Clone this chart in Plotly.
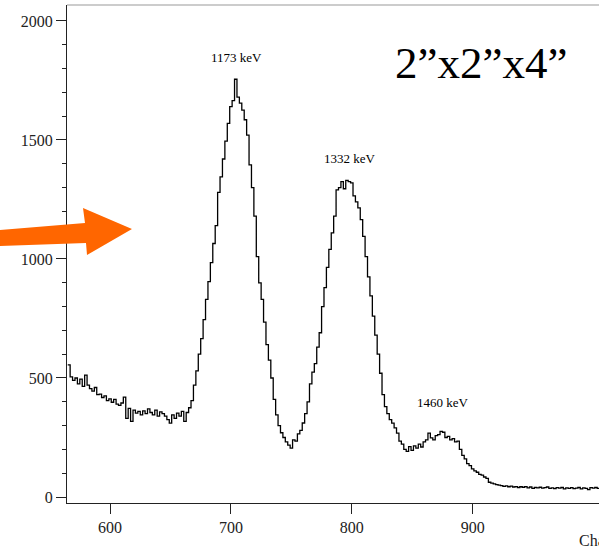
import plotly.graph_objects as go

# ---- data ----
bin_start = 565
bin_width = 2
counts = [
    555, 505, 490, 500, 475, 495, 465, 512, 470, 455,
    445, 460, 430, 432, 418, 425, 405, 412, 398, 410,
    390, 385, 395, 420, 330, 372, 318, 365, 352, 360,
    345, 362, 350, 370, 355, 345, 365, 340, 358, 350,
    340, 325, 310, 345, 330, 352, 340, 360, 318, 355,
    375, 405, 470, 530, 600, 665, 745, 830, 905, 985,
    1065, 1140, 1280, 1345, 1420, 1495, 1570, 1640, 1665, 1755,
    1680, 1655, 1625, 1585, 1520, 1395, 1300, 1180, 1010, 900,
    830, 735, 640, 575, 500, 410, 345, 300, 270, 250,
    232, 218, 205, 240, 235, 265, 280, 311, 350, 400,
    475, 525, 560, 630, 690, 800, 880, 965, 1040, 1110,
    1180, 1290, 1300, 1325, 1295, 1330, 1325, 1320, 1265, 1240,
    1215, 1165, 1095, 1010, 925, 845, 760, 680, 600, 520,
    430, 380, 350, 325, 310, 290, 268, 235, 222, 200,
    192, 212, 196, 215, 205, 222, 210, 232, 240, 268,
    248, 240, 258, 262, 276, 272, 250, 255, 240, 245,
    232, 235, 200, 175, 160, 140, 132, 118, 110, 104,
    95, 92, 84, 78, 62, 58, 55, 52, 50, 48,
    45, 47, 43, 46, 42, 44, 40, 43, 41, 44,
    38, 42, 36, 40, 38, 41, 37, 39, 42, 36,
    38, 35, 39, 37, 40, 34, 38, 36, 39, 35,
    37, 40, 34, 38, 36, 31, 39, 37, 40, 36,
]
peak_labels = ["1173 keV", "1332 keV", "1460 keV"]
peak_label_ch = [705, 798.5, 875.5]
peak_label_cnt = [1845, 1424, 399]
title_text = "2\u201dx2\u201dx4\u201d"
x_tick_vals = [600, 700, 800, 900]
y_tick_vals = [0, 500, 1000, 1500, 2000]
x_title = "Channel"

# ---- step histogram from bin edges ----
edges = [bin_start + i * bin_width for i in range(len(counts) + 1)]
yvals = counts + [counts[-1]]

fig = go.Figure()
fig.add_trace(go.Scatter(
    x=edges, y=yvals, mode="lines", line_shape="hv",
    line=dict(color="black", width=1.3), hoverinfo="skip", showlegend=False,
))

W, H = 599, 550
ml, mr, mt, mb = 67, 0, 5, 47
pw, ph = W - ml - mr, H - mt - mb

def px(x):
    return (x - ml) / pw

def py(y):
    return (H - mb - y) / ph

axis_font = dict(family="Liberation Serif, Times New Roman, serif", size=16, color="#222")

fig.update_layout(
    width=W, height=H,
    margin=dict(l=ml, r=mr, t=mt, b=mb),
    plot_bgcolor="white", paper_bgcolor="white",
    xaxis=dict(
        range=[564.4, 1004.5], tickvals=x_tick_vals, ticks="outside", ticklen=10,
        tickwidth=1.2, tickcolor="#222", showline=True, linecolor="#222", linewidth=1.3,
        showgrid=False, zeroline=False, tickfont=axis_font,
    ),
    yaxis=dict(
        range=[-25.2, 2067], tickvals=y_tick_vals, ticks="outside", ticklen=10,
        tickwidth=1.2, tickcolor="#222", showline=True, linecolor="#222", linewidth=1.3,
        showgrid=False, zeroline=False, tickfont=axis_font,
        minor=dict(dtick=100, ticks="outside", ticklen=4, tickcolor="#222", tickwidth=1.2),
    ),
)

# top frame line
fig.add_shape(type="line", xref="paper", yref="paper", x0=0, x1=1, y0=1, y1=1,
              line=dict(color="#999", width=1))

# orange arrow
pts = [(0, 230), (85, 223), (83, 208), (132, 229), (87, 255), (86, 243), (0, 246)]
path = "M " + " L ".join(f"{px(a):.5f},{py(b):.5f}" for a, b in pts) + " Z"
fig.add_shape(type="path", xref="paper", yref="paper", path=path,
              fillcolor="#FF6600", line=dict(color="#FF6600", width=0))

for lab, cx, cy in zip(peak_labels, peak_label_ch, peak_label_cnt):
    fig.add_annotation(x=cx, y=cy, text=lab, showarrow=False,
                       font=dict(family="Liberation Serif, Times New Roman, serif", size=13, color="black"))

fig.add_annotation(x=906.9, y=1824, text=title_text, showarrow=False,
                   font=dict(family="Liberation Serif, Times New Roman, serif", size=45, color="black"))

fig.add_annotation(xref="paper", yref="paper", x=px(577), y=py(540), text=x_title,
                   showarrow=False, xanchor="left", yanchor="middle",
                   font=dict(family="Liberation Serif, Times New Roman, serif", size=16, color="#222"))

fig.write_html("out.html")
